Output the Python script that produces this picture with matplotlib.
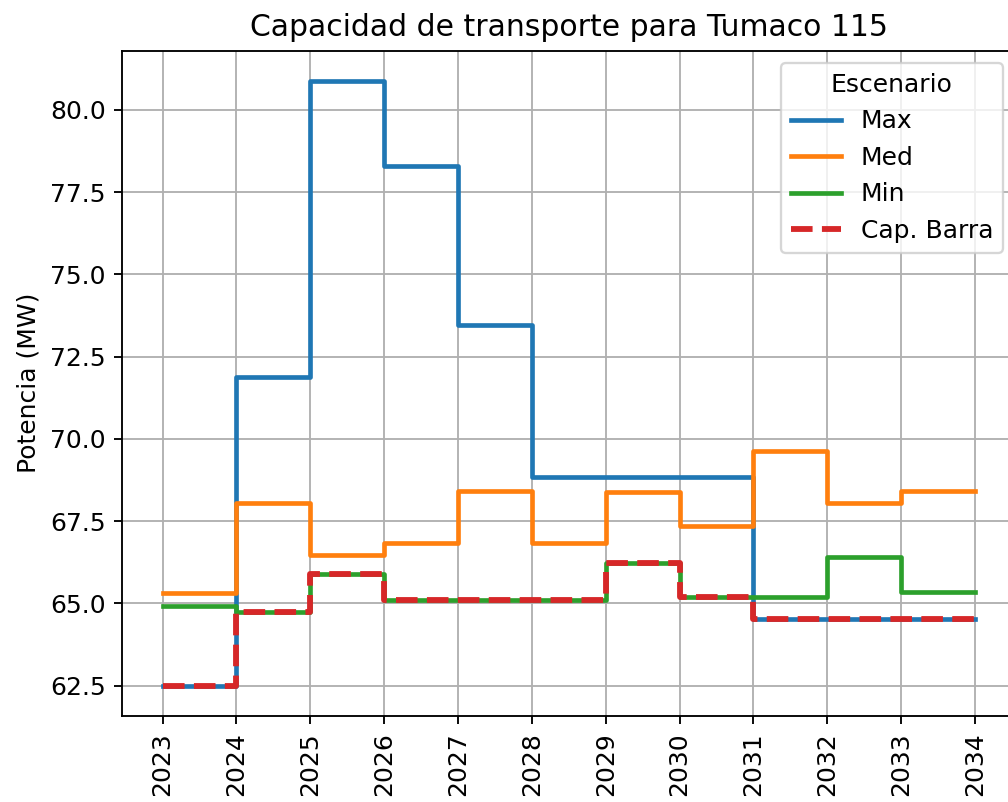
import matplotlib
matplotlib.use("Agg")
import matplotlib.pyplot as plt

# Años y escenarios de capacidad (MW)
years = [2023, 2024, 2025, 2026, 2027, 2028, 2029, 2030, 2031, 2032, 2033, 2034]
cap_max = [62.5, 71.87, 80.88, 78.30, 73.46, 68.84, 68.84, 68.84, 64.53, 64.53, 64.53, 64.53]
cap_med = [65.33, 68.04, 66.46, 66.84, 68.43, 66.84, 68.38, 67.35, 69.62, 68.04, 68.42, 68.42]
cap_min = [64.93, 64.73, 65.88, 65.10, 65.10, 65.10, 66.24, 65.21, 65.20, 66.41, 65.36, 65.36]
cap_barra = [62.5, 64.73, 65.88, 65.10, 65.10, 65.10, 66.24, 65.21, 64.53, 64.53, 64.53, 64.53]

plt.rcParams['font.size'] = 10.7

DPI = 168
fig = plt.figure(figsize=(1008 / DPI, 802 / DPI), dpi=DPI)
ax = fig.add_axes([122 / 1008, 86 / 802, 893.6 / 1008, 665.5 / 802])

ax.step(years, cap_max, where='post', lw=2, color='tab:blue', label='Max')
ax.step(years, cap_med, where='post', lw=2, color='tab:orange', label='Med')
ax.step(years, cap_min, where='post', lw=2, color='tab:green', label='Min')
ax.step(years, cap_barra, where='post', lw=2.5, ls='--', color='tab:red', label='Cap. Barra')

ax.set_xticks(years)
ax.set_xticklabels([str(y) for y in years], rotation=90)
ax.set_ylabel('Potencia (MW)')
ax.set_title('Capacidad de transporte para Tumaco 115')
ax.grid(True)
ax.legend(title='Escenario', loc='upper right')

fig.savefig('out.png', dpi=DPI)
